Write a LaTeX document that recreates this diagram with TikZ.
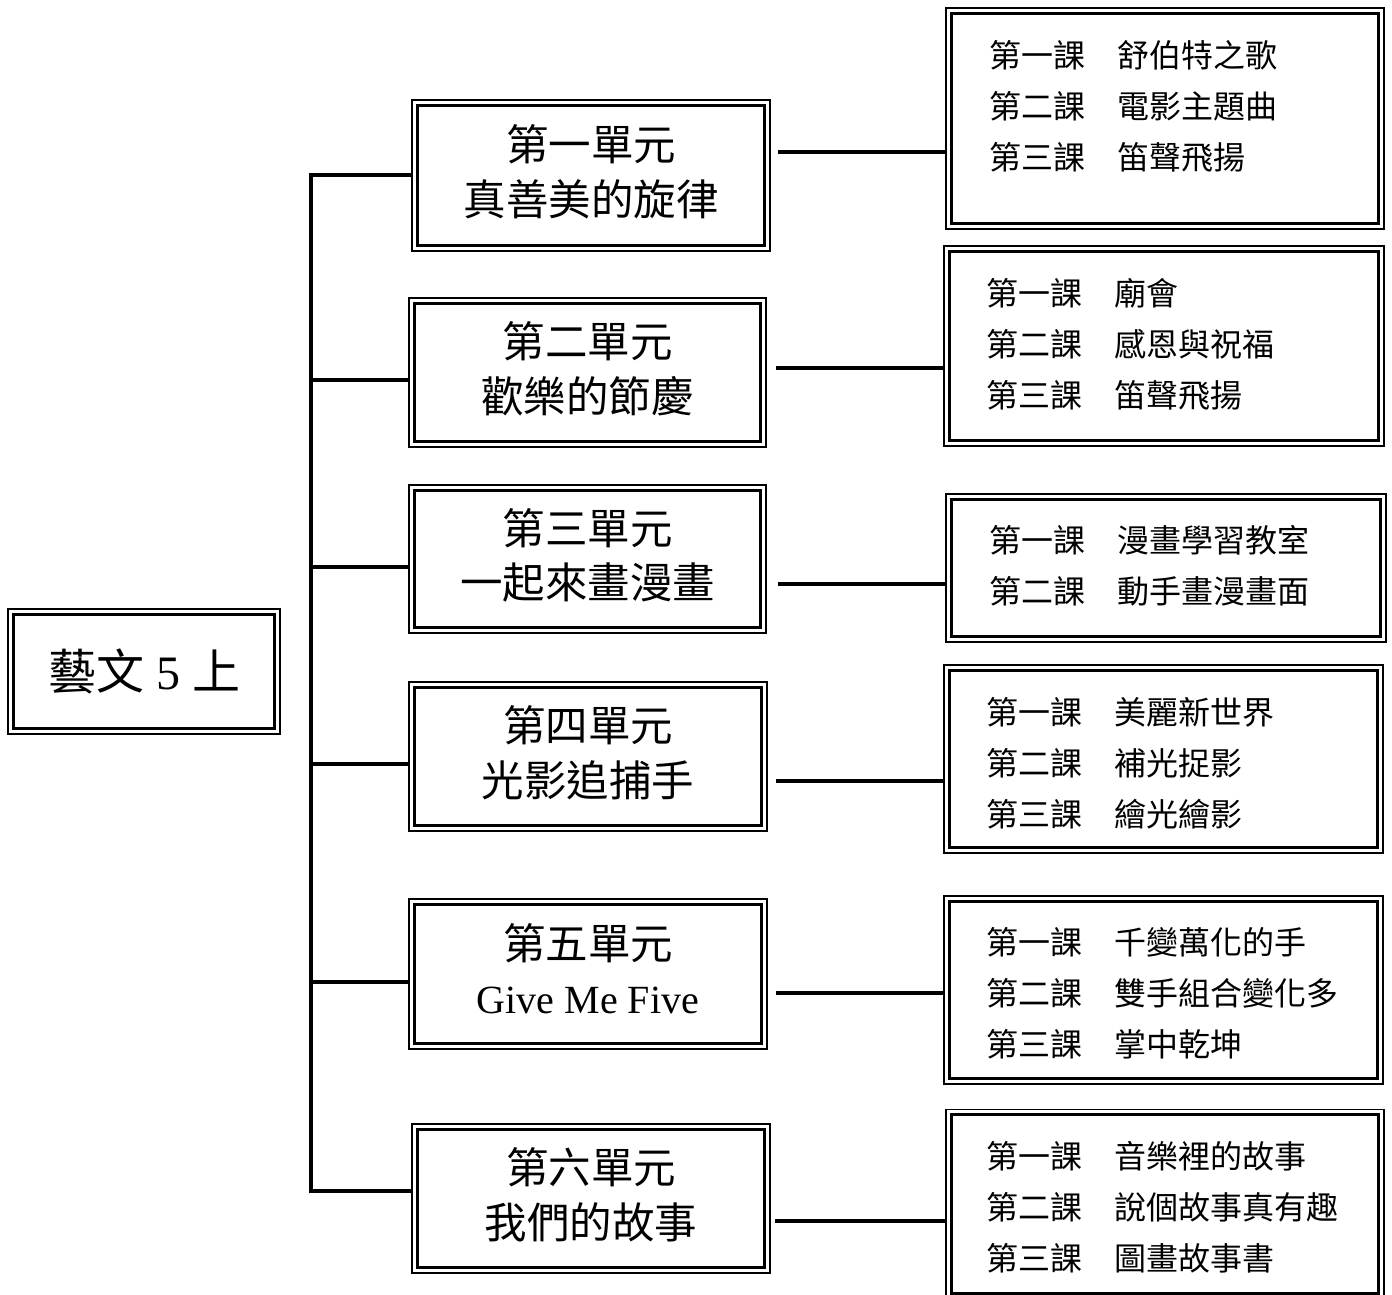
\documentclass[tikz,border=0pt]{standalone}
\usepackage{fontspec}
\setmainfont{Liberation Serif}
\newfontfamily\cjk{Noto Sans CJK TC}
\begin{document}
\begin{tikzpicture}[x=1pt,y=-1pt,
  box/.style={draw, line width=1.5pt, inner sep=0pt, outer sep=0pt},
  unitbox/.style={box, minimum width=358pt, minimum height=150pt, align=center,
    font=\cjk\fontsize{42.5}{54.5}\selectfont,
    execute at end node={\rule[-11pt]{0pt}{11pt}}},
  ltext/.style={anchor=west, inner sep=0pt, align=left,
    font=\cjk\fontsize{32}{51}\selectfont},
  conn/.style={line width=3.5pt},
  innerline/.style={line width=3.2pt}]
\useasboundingbox (0,0) rectangle (1392,1295);

% root
\node[box, minimum width=272pt, minimum height=125pt,
  font=\fontsize{48}{56}\selectfont] (root) at (144,671.5) {{\cjk 藝文} 5 {\cjk 上}};

% units
\node[unitbox, minimum width=358pt, minimum height=151pt] (u1) at (591,175.5) {第一單元\\真善美的旋律};
\node[unitbox, minimum width=357pt, minimum height=149pt] (u2) at (587.5,372.5) {第二單元\\歡樂的節慶};
\node[unitbox, minimum width=357pt, minimum height=148pt] (u3) at (587.5,559) {第三單元\\一起來畫漫畫};
\node[unitbox, minimum width=358pt, minimum height=149pt] (u4) at (588,756.5) {第四單元\\光影追捕手};
\node[unitbox, minimum width=358pt, minimum height=150pt] (u5) at (588,974) {第五單元\\{\rmfamily\fontsize{40}{54.5}\selectfont Give Me Five}};
\node[unitbox, minimum width=358pt, minimum height=149pt] (u6) at (591,1198.5) {第六單元\\我們的故事};

% lesson boxes
\node[box, minimum width=438pt, minimum height=221pt] (l1) at (1165,118.5) {};
\node[box, minimum width=440pt, minimum height=200pt] (l2) at (1164,346) {};
\node[box, minimum width=440pt, minimum height=148pt] (l3) at (1166,568) {};
\node[box, minimum width=439pt, minimum height=188pt] (l4) at (1163.5,759) {};
\node[box, minimum width=439pt, minimum height=188pt] (l5) at (1163.5,990) {};
\node[box, minimum width=438pt, minimum height=189pt] (l6) at (1165,1204) {};

% inner thick borders
\foreach \n in {root,u1,u2,u3,u4,u5,u6,l1,l2,l3,l4,l5,l6}
  \draw[innerline] ([xshift=5.3pt,yshift=-5.3pt]\n.north west) rectangle ([xshift=-5.3pt,yshift=5.3pt]\n.south east);

% lesson texts
\node[ltext] (t1) at (989,106) {第一課　舒伯特之歌\\第二課　電影主題曲\\第三課　笛聲飛揚};
\node[ltext] (t2) at (986,344.5) {第一課　廟會\\第二課　感恩與祝福\\第三課　笛聲飛揚};
\node[ltext] (t3) at (989,566) {第一課　漫畫學習教室\\第二課　動手畫漫畫面};
\node[ltext] (t4) at (986,763.5) {第一課　美麗新世界\\第二課　補光捉影\\第三課　繪光繪影};
\node[ltext] (t5) at (986,993.5) {第一課　千變萬化的手\\第二課　雙手組合變化多\\第三課　掌中乾坤};
\node[ltext] (t6) at (986,1207.5) {第一課　音樂裡的故事\\第二課　說個故事真有趣\\第三課　圖畫故事書};

% trunk and branches
\coordinate (j1) at (311,175);
\coordinate (j2) at (311,380);
\coordinate (j3) at (311,567);
\coordinate (j4) at (311,764);
\coordinate (j5) at (311,982);
\coordinate (j6) at (311,1191);
\draw[conn, line cap=rect] (j1) -- (j6);
\foreach \i in {1,...,6}
  \draw[conn] (j\i) -- (u\i.west |- j\i);

% unit-to-lesson connectors
\coordinate (r1) at (778,152);
\coordinate (r2) at (776,368);
\coordinate (r3) at (778,584);
\coordinate (r4) at (776,781);
\coordinate (r5) at (776,993);
\coordinate (r6) at (775,1221);
\foreach \i in {1,...,6}
  \draw[conn] (r\i) -- (l\i.west |- r\i);
\end{tikzpicture}
\end{document}
